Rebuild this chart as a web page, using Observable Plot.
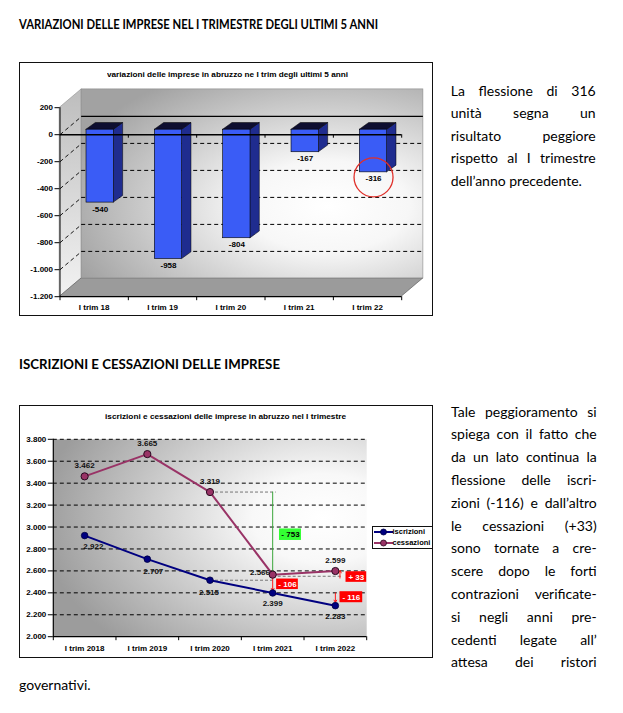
<!DOCTYPE html>
<html><head><meta charset="utf-8">
<script src="https://cdn.jsdelivr.net/npm/d3@7"></script>
<script src="https://cdn.jsdelivr.net/npm/@observablehq/plot@0.6"></script>
<style>
body{margin:0;background:#fff;}
#page{position:relative;width:623px;height:713px;overflow:hidden;font-family:Lato,"Open Sans",sans-serif;color:#000;background:#fff;}
.h{position:absolute;left:19px;font-weight:bold;font-size:12.5px;line-height:12.5px;white-space:pre;transform-origin:0 50%;}
.box{position:absolute;left:19px;width:412px;border:1.5px solid #111;background:#fff;}
.box svg{position:absolute;left:0;top:0;}
.ctitle{position:absolute;white-space:pre;font-family:"Liberation Sans",Arial,sans-serif;font-weight:bold;font-size:7px;line-height:7px;transform-origin:0 50%;}
.ln{position:absolute;white-space:pre;font-size:14px;line-height:14px;}
.legend{position:absolute;left:352px;width:59px;height:21px;border:1px solid #111;background:#fff;font-family:"Liberation Sans",Arial,sans-serif;font-weight:bold;font-size:7.5px;z-index:2;}
.legend div{position:absolute;left:0;height:10px;line-height:10px;white-space:pre;}
.legend svg{position:absolute;left:1px;top:0;}
.legend span{position:absolute;left:19.5px;top:0;}
</style></head>
<body><div id="page"></div>
<script>
// ---------- DATA ----------
const cats1 = ["I trim 18","I trim 19","I trim 20","I trim 21","I trim 22"];
const values1 = [-540,-958,-804,-167,-316];
const yTicks1 = [200,0,-200,-400,-600,-800,-1000,-1200];

const cats2 = ["I trim 2018","I trim 2019","I trim 2020","I trim 2021","I trim 2022"];
const iscrizioni = [2922,2707,2515,2399,2283];
const cessazioni = [3462,3665,3319,2566,2599];
const yTicks2 = [2000,2200,2400,2600,2800,3000,3200,3400,3600,3800];
const series2 = ["iscrizioni","cessazioni"];
const deltaLabels = ["- 753","- 106","+ 33","- 116"];
const deltaBoxY = [2930,2478,2544,2360];

const para1 = ["La flessione di 316","unità segna un","risultato peggiore","rispetto al I trimestre","dell’anno precedente."];
const para2 = ["Tale peggioramento si","spiega con il fatto che","da un lato continua la","flessione delle iscri-","zioni (-116) e dall’altro","le cessazioni (+33)","sono tornate a cre-","scere dopo le forti","contrazioni verificate-","si negli anni pre-","cedenti legate all’","attesa dei ristori"];
const para2Tail = "governativi.";

// ---------- helpers ----------
const loc = d3.formatLocale({decimal:",",thousands:".",grouping:[3],currency:["",""],minus:"-"});
const fmt = loc.format(",d");
const page = document.getElementById("page");
function el(tag, cls, parent){const e=document.createElement(tag); if(cls) e.className=cls; (parent||page).appendChild(e); return e;}
function fitW(e, w){const r=e.getBoundingClientRect().width; e.style.transform=`scaleX(${w/r})`;}
function line(txt,left,top,width,justify){
  const d=el("div","ln"); d.style.left=left+"px"; d.style.top=top+"px";
  const s=document.createElement("span"); s.textContent=txt; d.appendChild(s);
  if(justify){const w=s.getBoundingClientRect().width; const n=(txt.match(/ /g)||[]).length; if(n) s.style.wordSpacing=((width-w)/n)+"px";}
}
function makeDefs(spec){
  return () => {
    const d=d3.create("svg:defs");
    spec.forEach(g=>{
      const gr=d.append(g.type).attr("id",g.id);
      Object.entries(g.attrs).forEach(([k,v])=>gr.attr(k,v));
      g.stops.forEach(([o,c])=>gr.append("stop").attr("offset",o).attr("stop-color",c));
    });
    return d.node();
  };
}
const styleSvg = {fontFamily:"'Liberation Sans',Arial,sans-serif",fontSize:"8px",fontWeight:"bold",color:"#000",background:"transparent",overflow:"visible"};

// ---------- headings ----------
const h1=el("div","h"); h1.textContent="VARIAZIONI DELLE IMPRESE NEL I TRIMESTRE DEGLI ULTIMI 5 ANNI"; h1.style.top="18.8px"; fitW(h1,359);
const h2=el("div","h"); h2.textContent="ISCRIZIONI E CESSAZIONI DELLE IMPRESE"; h2.style.top="358.8px"; fitW(h2,261);

// ---------- CHART 1 ----------
const box1=el("div","box"); box1.style.top="62px"; box1.style.height="252px";
const W1=412,H1=252, m1={left:39.5,right:30.8,top:44.2,bottom:18.8};
const pw1=W1-m1.left-m1.right, ph1=H1-m1.top-m1.bottom;
const kx1=5/pw1, ky1=1400/ph1;
const WALL=[21.7,-18.3], BOFF=[6,-5], BDEP=[9.3,-6.7];
const wdx=WALL[0]*kx1, wdy=-WALL[1]*ky1, bdx=BDEP[0]*kx1, bdy=-BDEP[1]*ky1;
const yMin1=yTicks1[yTicks1.length-1], yMax1=yTicks1[0];
const bars=cats1.map((c,i)=>({cat:c,i,v:values1[i],x1:i+0.3,x2:i+0.7,xc:i+0.5}));
const sideData=bars.flatMap(b=>[{cat:b.cat,x:b.x2,y1:b.v,y2:0},{cat:b.cat,x:b.x2+bdx,y1:b.v+bdy,y2:bdy}]);
const topData=bars.flatMap(b=>[{cat:b.cat,y:0,x1:b.x1,x2:b.x2},{cat:b.cat,y:bdy,x1:b.x1+bdx,x2:b.x2+bdx}]);

const chart1=Plot.plot({
  width:W1,height:H1,marginLeft:m1.left,marginRight:m1.right,marginTop:m1.top,marginBottom:m1.bottom,
  style:styleSvg,
  x:{domain:[0,5],axis:null},
  y:{domain:[yMin1,yMax1]},
  marks:[
    makeDefs([
      {type:"radialGradient",id:"g1back",attrs:{cx:0.72,cy:0.62,r:0.8,fx:0.72,fy:0.62},stops:[[0,"#ffffff"],[0.3,"#f7f7f7"],[1,"#a2a2a2"]]},
      {type:"linearGradient",id:"g1side",attrs:{x1:0,y1:0,x2:0,y2:1},stops:[[0,"#bdbdbd"],[1,"#f2f2f2"]]}
    ]),
    Plot.areaY([{x:0,y1:yMin1,y2:yMax1},{x:wdx,y1:yMin1+wdy,y2:yMax1+wdy}],{x:"x",y1:"y1",y2:"y2",fill:"url(#g1side)",stroke:"#8a8a8a",strokeWidth:0.6}),
    Plot.areaX([{y:yMin1,x1:0,x2:5},{y:yMin1+wdy,x1:wdx,x2:5+wdx}],{y:"y",x1:"x1",x2:"x2",fill:"#9b9b9b",stroke:"#555",strokeWidth:0.6}),
    Plot.rect([0],{x1:0,x2:5,y1:yMin1,y2:yMax1,dx:WALL[0],dy:WALL[1],fill:"url(#g1back)",stroke:"#8a8a8a",strokeWidth:0.6}),
    Plot.ruleY(yTicks1.filter(d=>d<0&&d>yMin1),{x1:0,x2:5,dx:WALL[0],dy:WALL[1],stroke:"#000",strokeWidth:1,strokeDasharray:"4,3"}),
    Plot.ruleY([0],{x1:0,x2:5,dx:WALL[0],dy:WALL[1],stroke:"#000",strokeWidth:1.3}),
    Plot.link(yTicks1.filter(d=>d<=0&&d>yMin1),{x1:0,y1:d=>d,x2:wdx,y2:d=>d+wdy,stroke:"#000",strokeWidth:0.9,strokeDasharray:"4,3"}),
    Plot.areaY(sideData,{x:"x",y1:"y1",y2:"y2",z:"cat",fill:"#1f2c8f",stroke:"#000",strokeWidth:0.5,dx:BOFF[0],dy:BOFF[1]}),
    Plot.areaX(topData,{y:"y",x1:"x1",x2:"x2",z:"cat",fill:"#0e0e30",stroke:"#000",strokeWidth:0.5,dx:BOFF[0],dy:BOFF[1]}),
    Plot.rect(bars,{x1:"x1",x2:"x2",y1:0,y2:"v",fill:"#3a5cf6",stroke:"#000",strokeWidth:0.6,dx:BOFF[0],dy:BOFF[1]}),
    Plot.ruleY([0],{x1:0,x2:5,stroke:"#000",strokeWidth:1.5}),
    Plot.ruleX([1,2,3,4,5],{y1:0,y2:-3.5*ky1,stroke:"#000",strokeWidth:1}),
    Plot.ruleX([0],{y1:yMin1,y2:yMax1,stroke:"#000",strokeWidth:1}),
    Plot.ruleY([yMin1],{x1:0,x2:5,stroke:"#000",strokeWidth:1.2}),
    Plot.axisY(yTicks1,{tickSize:5,tickPadding:2,tickFormat:fmt,label:null,fontWeight:"bold"}),
    Plot.axisX([0,1,2,3,4,5],{tickSize:4,tickFormat:()=>"",label:null}),
    Plot.text(cats1,{x:(d,i)=>i+0.5,y:yMin1,dy:10.5,text:d=>d,fontWeight:"bold"}),
    Plot.text(bars,{x:"xc",y:"v",dx:BOFF[0],dy:1.5,text:d=>fmt(d.v),fontWeight:"bold"}),
    Plot.dot([bars[4]],{x:"xc",y:"v",dx:6,r:19.5,fill:"none",stroke:"#e0302a",strokeWidth:1.3})
  ]
});
box1.appendChild(chart1);
const t1=el("div","ctitle",box1); t1.textContent="variazioni delle imprese in abruzzo ne I trim degli ultimi 5 anni"; t1.style.left="87px"; t1.style.top="8px"; fitW(t1,241);

// ---------- CHART 2 ----------
const box2=el("div","box"); box2.style.top="405px"; box2.style.height="251px";
const W2=412,H2=251,m2={left:32.8,right:65.8,top:32.8,bottom:20.8};
const pw2=W2-m2.left-m2.right, ph2=H2-m2.top-m2.bottom;
const kx2=5/pw2;
const yMin2=yTicks2[0], yMax2=yTicks2[yTicks2.length-1];
const pts=cats2.map((c,i)=>({cat:c,x:i+0.5,isc:iscrizioni[i],ces:cessazioni[i]}));
const iscOff=[[8.7,11],[6,12.6],[-1,12],[0,10],[0,10.5]];
const cesOff=[[0,-11.4],[0,-10.8],[0,-11],[-12.7,-2.3],[0,-11]];
const guides=[
  {x1:pts[2].x,x2:pts[3].x+3*kx2,y:cessazioni[2]},
  {x1:pts[2].x,x2:pts[3].x,y:iscrizioni[2]},
  {x1:pts[3].x,x2:pts[4].x+6*kx2,y:cessazioni[3]-15}
];
const arrows=[
  {x:pts[3].x,y1:cessazioni[2],y2:cessazioni[3],c:"#3aa63a"},
  {x:pts[3].x,y1:cessazioni[3]-15,y2:iscrizioni[3]+10,c:"#ff1a1a"},
  {x:pts[4].x+4.6*kx2,y1:2535,y2:2612,c:"#ff1a1a"},
  {x:pts[4].x,y1:iscrizioni[3],y2:iscrizioni[4]+20,c:"#ff1a1a"}
];
const boxes=[
  {t:deltaLabels[0],cx:pts[3].x+17.8*kx2,cy:deltaBoxY[0],w:22,h:11.5,fill:"#33ff33",tc:"#000"},
  {t:deltaLabels[1],cx:pts[3].x+14.8*kx2,cy:deltaBoxY[1],w:21.7,h:10.5,fill:"#ff0000",tc:"#fff"},
  {t:deltaLabels[2],cx:pts[4].x+21*kx2,cy:deltaBoxY[2],w:20.7,h:10.6,fill:"#ff0000",tc:"#fff"},
  {t:deltaLabels[3],cx:pts[4].x+16*kx2,cy:deltaBoxY[3],w:22.7,h:11,fill:"#ff0000",tc:"#fff"}
];
const ky2=(yMax2-yMin2)/ph2;
const chart2=Plot.plot({
  width:W2,height:H2,marginLeft:m2.left,marginRight:m2.right,marginTop:m2.top,marginBottom:m2.bottom,
  style:styleSvg,
  x:{domain:[0,5],axis:null},
  y:{domain:[yMin2,yMax2]},
  marks:[
    makeDefs([{type:"radialGradient",id:"g2bg",attrs:{cx:0.86,cy:0.4,r:0.9,fx:0.86,fy:0.4},stops:[[0,"#ffffff"],[0.25,"#f8f8f8"],[1,"#9c9c9c"]]}]),
    Plot.frame({fill:"url(#g2bg)",stroke:null}),
    Plot.ruleY(yTicks2.filter(d=>d>yMin2),{stroke:"#000",strokeWidth:1,strokeDasharray:"4,3"}),
    Plot.ruleY([yMin2],{stroke:"#000",strokeWidth:1.2}),
    Plot.ruleX([0],{stroke:"#000",strokeWidth:1.2}),
    Plot.axisY(yTicks2,{tickSize:5,tickPadding:2,tickFormat:fmt,label:null,fontWeight:"bold"}),
    Plot.axisX([0,1,2,3,4,5],{tickSize:4,tickFormat:()=>"",label:null}),
    Plot.text(cats2,{x:(d,i)=>i+0.5,y:yMin2,dy:11.5,text:d=>d,fontWeight:"bold"}),
    Plot.link(guides,{x1:"x1",x2:"x2",y1:"y",y2:"y",stroke:"#777",strokeWidth:1,strokeDasharray:"3,2"}),
    Plot.arrow(arrows,{x1:"x",x2:"x",y1:"y1",y2:"y2",stroke:d=>d.c,strokeWidth:1,headLength:4,insetEnd:1}),
    Plot.line(pts,{x:"x",y:"isc",stroke:"#000080",strokeWidth:2}),
    Plot.line(pts,{x:"x",y:"ces",stroke:"#993366",strokeWidth:2}),
    Plot.dot(pts,{x:"x",y:"isc",r:3.3,fill:"#000080",stroke:"#000040",strokeWidth:0.8}),
    Plot.dot(pts,{x:"x",y:"ces",r:3.6,fill:"#993366",stroke:"#2a0a20",strokeWidth:1}),
    Plot.text(pts,{x:(d,i)=>d.x+iscOff[i][0]*kx2,y:(d,i)=>d.isc-iscOff[i][1]*ky2,text:d=>fmt(d.isc),fontWeight:"bold",fill:"#111"}),
    Plot.text(pts,{x:(d,i)=>d.x+cesOff[i][0]*kx2,y:(d,i)=>d.ces-cesOff[i][1]*ky2,text:d=>fmt(d.ces),fontWeight:"bold",fill:"#111"}),
    Plot.rect(boxes,{x1:d=>d.cx-d.w/2*kx2,x2:d=>d.cx+d.w/2*kx2,y1:d=>d.cy-d.h/2*ky2,y2:d=>d.cy+d.h/2*ky2,fill:d=>d.fill}),
    Plot.text(boxes,{x:"cx",y:"cy",text:"t",fill:d=>d.tc,fontWeight:"bold"})
  ]
});
box2.appendChild(chart2);
const t2=el("div","ctitle",box2); t2.textContent="iscrizioni e cessazioni delle imprese in abruzzo nel I trimestre"; t2.style.left="85px"; t2.style.top="6.5px"; fitW(t2,241);

// legend
const lg=el("div","legend",box2); lg.style.top="119.5px";
const lcol=["#000080","#993366"], lstroke=["#000040","#2a0a20"];
series2.forEach((s,i)=>{
  const r=el("div",null,lg); r.style.top=(0.5+i*10.5)+"px"; r.style.width="59px";
  r.innerHTML=`<svg width="19" height="10"><line x1="0" y1="5" x2="19" y2="5" stroke="${lcol[i]}" stroke-width="2"/><circle cx="9.5" cy="5" r="3" fill="${lcol[i]}" stroke="${lstroke[i]}" stroke-width="0.8"/></svg><span>${s}</span>`;
});

// ---------- paragraphs ----------
para1.forEach((t,k)=>line(t,450.7,83.5+k*22.5,145,k<para1.length-1));
para2.forEach((t,k)=>line(t,451,404.7+k*22.78,145.7,true));
line(para2Tail,19,678.1,0,false);
</script>
</body></html>
